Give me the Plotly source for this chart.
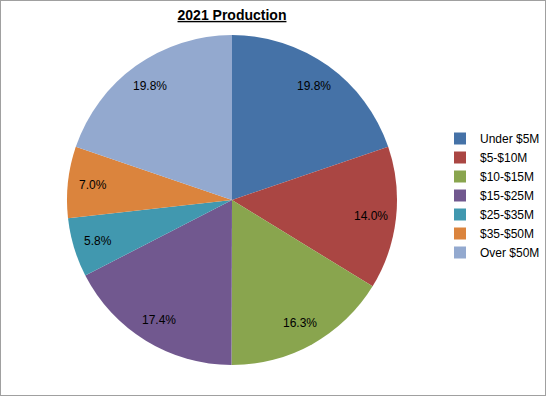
import math
import plotly.graph_objects as go

categories = ["Under $5M", "$5-$10M", "$10-$15M", "$15-$25M", "$25-$35M", "$35-$50M", "Over $50M"]
values = [19.8, 14.0, 16.3, 17.4, 5.8, 7.0, 19.8]
colors = ["#4572A7", "#AA4643", "#89A54E", "#71588F", "#4198AF", "#DB843D", "#93A9CF"]

W, H = 546, 396
cx, cy, r = 232, 200, 165
FONT = "Liberation Sans, Arial, sans-serif"

fig = go.Figure(go.Pie(
    labels=categories,
    values=values,
    sort=False,
    direction="clockwise",
    rotation=0,
    marker=dict(colors=colors, line=dict(width=0)),
    textinfo="none",
    hoverinfo="label+value",
    domain=dict(x=[(cx - r) / W, (cx + r) / W], y=[1 - (cy + r) / H, 1 - (cy - r) / H]),
))

# data labels placed near the outer edge of each slice ("inside end"), computed from the values
total = sum(values)
annotations = []
cum = 0.0
for v in values:
    f = (cum + v / 2) / total
    cum += v
    th = 2 * math.pi * f
    px = cx + 0.85 * r * math.sin(th)
    py = cy - 0.85 * r * math.cos(th)
    annotations.append(dict(x=px / W, y=1 - py / H, xref="paper", yref="paper",
                            xanchor="center", yanchor="middle",
                            text=f"{v:.1f}%", showarrow=False,
                            font=dict(family=FONT, size=12, color="black")))

fig.update_layout(
    width=W, height=H,
    margin=dict(l=0, r=0, t=0, b=0, autoexpand=False),
    paper_bgcolor="white",
    title=dict(text="<b><u>2021 Production</u></b>", x=232 / W, xanchor="center",
               y=1 - 15 / H, yanchor="middle",
               font=dict(family=FONT, size=14, color="black")),
    legend=dict(x=440 / W, y=1 - 124 / H, xanchor="left", yanchor="top",
                font=dict(family=FONT, size=12, color="black"),
                itemwidth=30, tracegroupgap=0),
    annotations=annotations,
    shapes=[dict(type="rect", xref="paper", yref="paper", x0=0, y0=0, x1=1, y1=1,
                 line=dict(color="#a0a0a0", width=2))],
)

fig.write_html("out.html", config={"displayModeBar": False},
               post_script="document.body.style.margin='0';document.body.style.overflow='hidden';")
